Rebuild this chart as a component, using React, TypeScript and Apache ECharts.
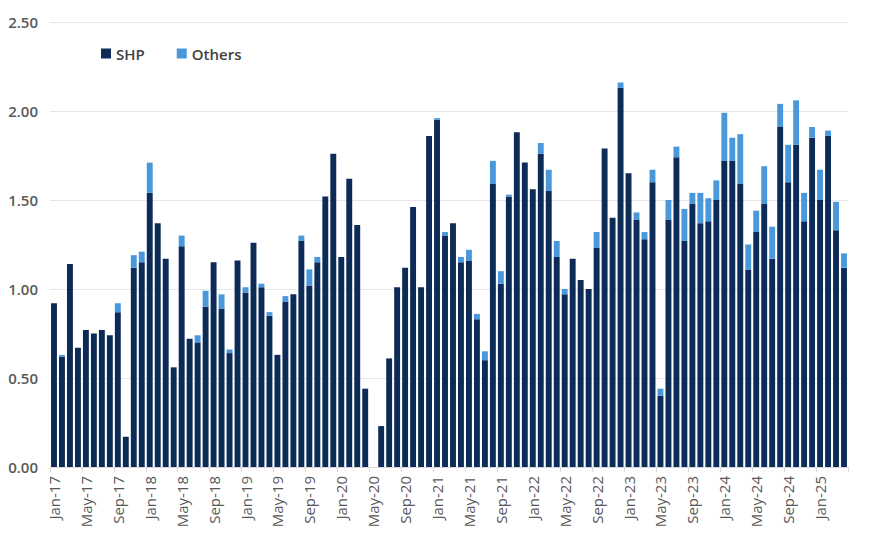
import React, { useEffect, useRef } from "react";
import * as echarts from "echarts";

const months: string[] = [
  "Jan-17","Feb-17","Mar-17","Apr-17","May-17","Jun-17","Jul-17","Aug-17","Sep-17","Oct-17","Nov-17","Dec-17",
  "Jan-18","Feb-18","Mar-18","Apr-18","May-18","Jun-18","Jul-18","Aug-18","Sep-18","Oct-18","Nov-18","Dec-18",
  "Jan-19","Feb-19","Mar-19","Apr-19","May-19","Jun-19","Jul-19","Aug-19","Sep-19","Oct-19","Nov-19","Dec-19",
  "Jan-20","Feb-20","Mar-20","Apr-20","May-20","Jun-20","Jul-20","Aug-20","Sep-20","Oct-20","Nov-20","Dec-20",
  "Jan-21","Feb-21","Mar-21","Apr-21","May-21","Jun-21","Jul-21","Aug-21","Sep-21","Oct-21","Nov-21","Dec-21",
  "Jan-22","Feb-22","Mar-22","Apr-22","May-22","Jun-22","Jul-22","Aug-22","Sep-22","Oct-22","Nov-22","Dec-22",
  "Jan-23","Feb-23","Mar-23","Apr-23","May-23","Jun-23","Jul-23","Aug-23","Sep-23","Oct-23","Nov-23","Dec-23",
  "Jan-24","Feb-24","Mar-24","Apr-24","May-24","Jun-24","Jul-24","Aug-24","Sep-24","Oct-24","Nov-24","Dec-24",
  "Jan-25","Feb-25","Mar-25","Apr-25",
];

const shp: number[] = [
  0.92, 0.62, 1.14, 0.67, 0.77, 0.75, 0.77, 0.74, 0.87, 0.17, 1.12, 1.15,
  1.54, 1.37, 1.17, 0.56, 1.24, 0.72, 0.70, 0.90, 1.15, 0.89, 0.64, 1.16,
  0.98, 1.26, 1.01, 0.85, 0.63, 0.93, 0.97, 1.27, 1.02, 1.15, 1.52, 1.76,
  1.18, 1.62, 1.36, 0.44, 0, 0.23, 0.61, 1.01, 1.12, 1.46, 1.01, 1.86,
  1.95, 1.30, 1.37, 1.15, 1.16, 0.83, 0.60, 1.59, 1.03, 1.52, 1.88, 1.71,
  1.56, 1.76, 1.55, 1.18, 0.97, 1.17, 1.05, 1.00, 1.23, 1.79, 1.40, 2.13,
  1.65, 1.39, 1.28, 1.60, 0.40, 1.39, 1.74, 1.27, 1.48, 1.37, 1.38, 1.50,
  1.72, 1.72, 1.59, 1.11, 1.32, 1.48, 1.17, 1.91, 1.60, 1.81, 1.38, 1.85,
  1.50, 1.86, 1.33, 1.12,
];

const others: number[] = [
  0, 0.01, 0, 0, 0, 0, 0, 0, 0.05, 0, 0.07, 0.06,
  0.17, 0, 0, 0, 0.06, 0, 0.04, 0.09, 0, 0.08, 0.02, 0,
  0.03, 0, 0.02, 0.02, 0, 0.03, 0, 0.03, 0.09, 0.03, 0, 0,
  0, 0, 0, 0, 0, 0, 0, 0, 0, 0, 0, 0,
  0.01, 0.02, 0, 0.03, 0.06, 0.03, 0.05, 0.13, 0.07, 0.01, 0, 0,
  0, 0.06, 0.12, 0.09, 0.03, 0, 0, 0, 0.09, 0, 0, 0.03,
  0, 0.04, 0.04, 0.07, 0.04, 0.11, 0.06, 0.18, 0.06, 0.17, 0.13, 0.11,
  0.27, 0.13, 0.28, 0.14, 0.12, 0.21, 0.18, 0.13, 0.21, 0.25, 0.16, 0.06,
  0.17, 0.03, 0.16, 0.08,
];

const yTicks: number[] = [0, 0.5, 1, 1.5, 2, 2.5];

const DARK = "#0C2B57";
const LIGHT = "#4A98DC";
const FONT = "'Open Sans', 'Noto Sans', sans-serif";

export default function App() {
  const ref = useRef<HTMLDivElement>(null);
  useEffect(() => {
    if (!ref.current) return;
    const chart = echarts.init(ref.current, undefined, { renderer: "svg" });
    chart.setOption({
      animation: false,
      backgroundColor: "#ffffff",
      textStyle: { fontFamily: FONT },
      legend: {
        left: 96,
        top: 41,
        itemWidth: 10,
        itemHeight: 10,
        itemGap: 32,
        icon: "rect",
        textStyle: { fontSize: 15, color: "#404040", fontFamily: FONT, fontWeight: 600 },
        data: ["SHP", "Others"],
      },
      grid: { left: 50, right: 21, top: 22, bottom: 77, containLabel: false },
      xAxis: {
        type: "category",
        data: months,
        axisLine: { show: true, lineStyle: { color: "#d9d9d9", width: 1 } },
        axisTick: { show: true, interval: 3, length: 5, lineStyle: { color: "#d9d9d9" } },
        axisLabel: {
          interval: 3,
          rotate: 90,
          fontSize: 15,
          color: "#595959",
          margin: 9,
          fontFamily: FONT,
        },
      },
      yAxis: {
        type: "value",
        min: yTicks[0],
        max: yTicks[yTicks.length - 1],
        interval: 0.5,
        axisLine: { show: false },
        axisTick: { show: false },
        splitLine: { lineStyle: { color: "#e6e6e6", width: 1 } },
        axisLabel: {
          formatter: (v: number) => v.toFixed(2),
          fontSize: 15,
          color: "#595959",
          fontWeight: 600,
          margin: 12,
          fontFamily: FONT,
        },
      },
      series: [
        {
          name: "SHP",
          type: "bar",
          stack: "total",
          data: shp,
          barCategoryGap: "26%",
          itemStyle: { color: DARK },
        },
        {
          name: "Others",
          type: "bar",
          stack: "total",
          data: others,
          itemStyle: { color: LIGHT },
        },
      ],
    });
    return () => chart.dispose();
  }, []);
  return (
    <div
      ref={ref}
      style={{ position: "fixed", left: 0, top: 0, width: 869, height: 544, background: "#fff" }}
    />
  );
}
